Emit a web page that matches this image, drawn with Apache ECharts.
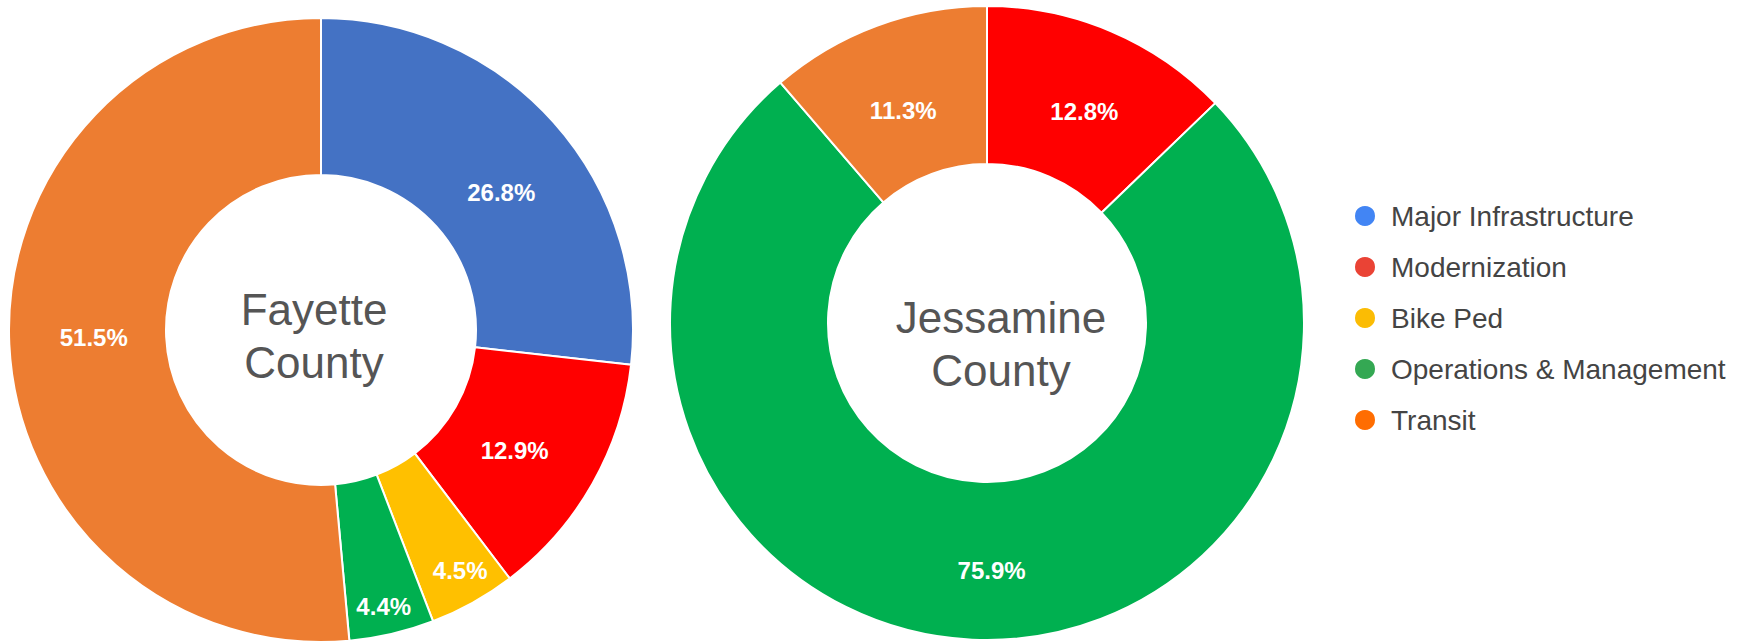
<!DOCTYPE html>
<html>
<head>
<meta charset="utf-8">
<title>County donuts</title>
<script src="https://cdn.jsdelivr.net/npm/echarts@6/dist/echarts.min.js"></script>
<style>
  html, body { margin: 0; padding: 0; background: #fff; }
  #chart { width: 1743px; height: 642px; }
</style>
</head>
<body>
<div id="chart"></div>
<script>
// categories, in legend order
const categories = ['Major Infrastructure', 'Modernization', 'Bike Ped', 'Operations & Management', 'Transit']
// share of each category (%)
const fayette = [26.8, 12.9, 4.5, 4.4, 51.5]
const jessamine = [0, 12.8, 0, 75.9, 11.3]
const countyNames = ['Fayette\nCounty', 'Jessamine\nCounty']

// slice colours vs. legend swatch colours (they differ in the original)
const sliceColors = ['#4472C4', '#FF0000', '#FFC000', '#00B050', '#ED7D31']
const legendColors = ['#4285F4', '#EA4335', '#FBBC04', '#34A853', '#FF6D01']

// small nudges so the slice labels sit where the original put them
// (thin slices get their label pushed out toward the rim)
const fayetteLabelNudge = [[4, 20], [-12, 4], [24, 34], [9, 46], [9, -3]]
const jessamineLabelNudge = [[0, 0], [3, 10], [0, 0], [16, 7], [0, 13]]

const FONT = "'Liberation Sans', Arial, sans-serif"

const toData = (values, nudge) =>
  categories
    .map((name, i) => ({
      name,
      value: values[i],
      itemStyle: { color: sliceColors[i] },
      label: { offset: nudge[i] }
    }))
    .filter((d) => d.value > 0)

const donut = (values, nudge, center, radius) => ({
  type: 'pie',
  center,
  radius,
  startAngle: 90,
  clockwise: true,
  avoidLabelOverlap: false,
  silent: true,
  itemStyle: { borderColor: '#fff', borderWidth: 2 },
  label: {
    show: true,
    position: 'inside',
    formatter: (p) => p.value.toFixed(1) + '%',
    color: '#fff',
    fontFamily: FONT,
    fontWeight: 'bold',
    fontSize: 24
  },
  labelLine: { show: false },
  data: toData(values, nudge)
})

const chart = echarts.init(document.getElementById('chart'), null, { renderer: 'svg' })

chart.setOption({
  animation: false,
  legend: {
    orient: 'vertical',
    left: 1348,
    top: 197,
    icon: 'circle',
    itemWidth: 22,
    itemHeight: 22,
    itemGap: 23,
    selectedMode: false,
    textStyle: {
      color: '#444',
      fontFamily: FONT,
      fontSize: 28,
      lineHeight: 28,
      padding: [0, 0, 0, 10]
    },
    data: categories.map((name, i) => ({ name, itemStyle: { color: legendColors[i] } }))
  },
  graphic: [
    {
      type: 'text',
      style: {
        text: countyNames[0],
        x: 314,
        y: 336,
        align: 'center',
        verticalAlign: 'middle',
        fill: '#555',
        font: '44px ' + FONT,
        lineHeight: 53
      }
    },
    {
      type: 'text',
      style: {
        text: countyNames[1],
        x: 1001,
        y: 344,
        align: 'center',
        verticalAlign: 'middle',
        fill: '#555',
        font: '44px ' + FONT,
        lineHeight: 53
      }
    }
  ],
  series: [
    donut(fayette, fayetteLabelNudge, [321, 330], [155, 312]),
    donut(jessamine, jessamineLabelNudge, [987, 323], [159, 317])
  ]
})
</script>
</body>
</html>
